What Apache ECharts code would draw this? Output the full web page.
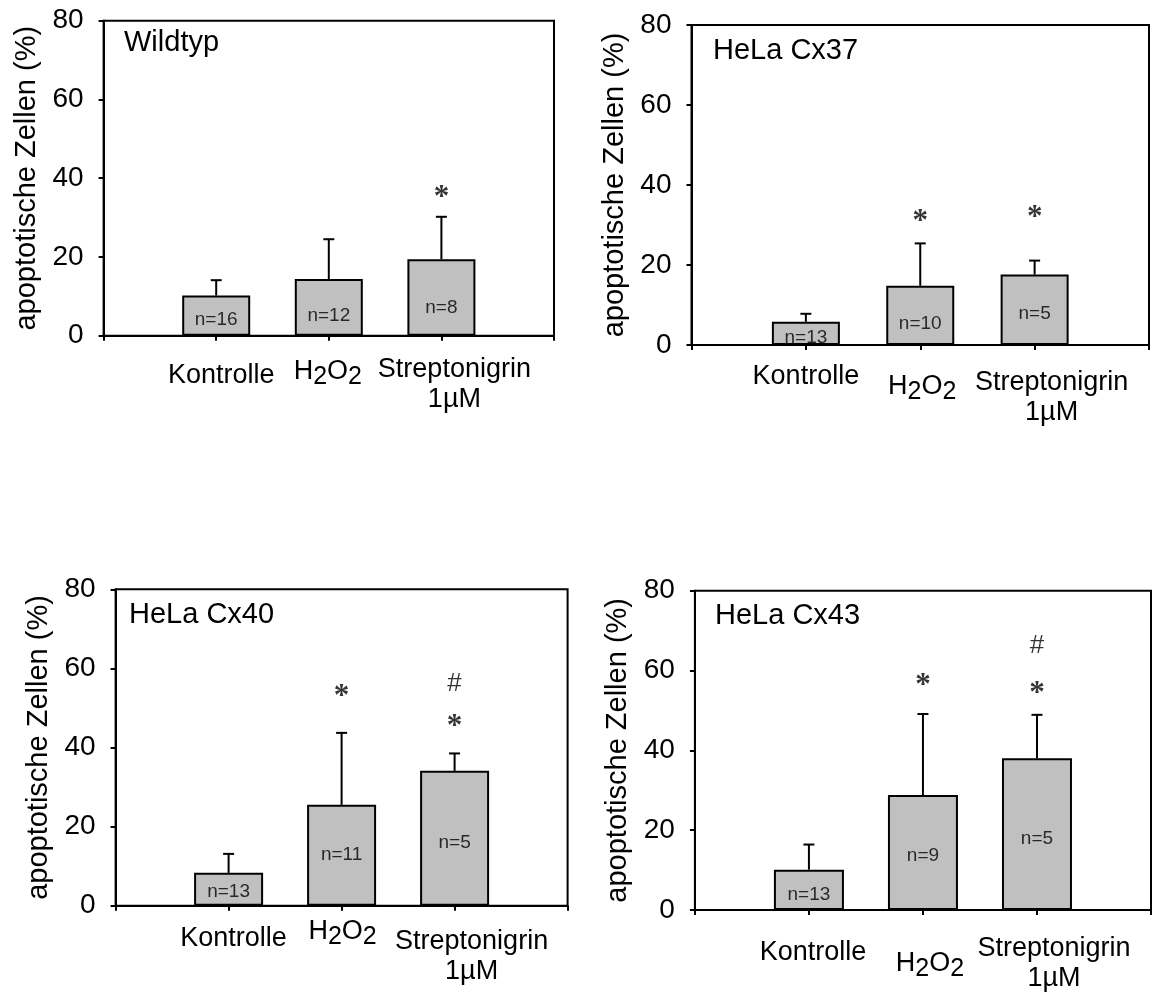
<!DOCTYPE html>
<html>
<head>
<meta charset="utf-8">
<script src="https://cdn.jsdelivr.net/npm/echarts@6/dist/echarts.min.js"></script>
<style>
  html, body { margin: 0; padding: 0; background: #fff; }
  #chart { width: 1154px; height: 994px; }
</style>
</head>
<body>
<div id="chart"></div>
<script>
// ---- data ----
const categories = ['Kontrolle', 'H2O2', 'Streptonigrin\n1µM'];
const panelTitles = ['Wildtyp', 'HeLa Cx37', 'HeLa Cx40', 'HeLa Cx43'];
const yTicks = [0, 20, 40, 60, 80];
const yAxisTitle = 'apoptotische Zellen (%)';

// mean share of apoptotic cells (%)
const meanWildtyp = [10.2, 14.4, 19.4];
const meanCx37 = [5.8, 14.8, 17.6];
const meanCx40 = [8.3, 25.5, 34.1];
const meanCx43 = [10.1, 28.8, 38.0];

// standard deviation (upper whisker only)
const sdWildtyp = [3.9, 10.1, 10.8];
const sdCx37 = [2.0, 10.6, 3.5];
const sdCx40 = [4.8, 18.2, 4.4];
const sdCx43 = [6.3, 20.3, 10.9];

// number of experiments
const nWildtyp = [16, 12, 8];
const nCx37 = [13, 10, 5];
const nCx40 = [13, 11, 5];
const nCx43 = [13, 9, 5];

// significance marks: * vs. Kontrolle, # vs. Wildtyp
const sigWildtyp = [[], [], ['*']];
const sigCx37 = [[], ['*'], ['*']];
const sigCx40 = [[], ['*'], ['#', '*']];
const sigCx43 = [[], ['*'], ['#', '*']];

const panels = [
  { title: panelTitles[0], mean: meanWildtyp, sd: sdWildtyp, n: nWildtyp, sig: sigWildtyp },
  { title: panelTitles[1], mean: meanCx37, sd: sdCx37, n: nCx37, sig: sigCx37 },
  { title: panelTitles[2], mean: meanCx40, sd: sdCx40, n: nCx40, sig: sigCx40 },
  { title: panelTitles[3], mean: meanCx43, sd: sdCx43, n: nCx43, sig: sigCx43 }
];

// ---- layout (pixels, and label heights in axis units) ----
const layout = [
  { grid: { left: 103.6, top: 20.7, width: 450.4, height: 315 }, barWidth: 68, title: [124, 28.5],
    nY: [4.0, 5.0, 7.0], sigY: [[], [], [36.3]],
    labelDy: [40.3, 36.3, 34.3], labelDx: [5, -1, 13] },
  { grid: { left: 691.5, top: 25, width: 457.5, height: 320 }, barWidth: 68, title: [713, 36.5],
    nY: [1.75, 5.4, 7.9], sigY: [[], [32.1], [32.9]],
    labelDy: [31.7, 41.7, 38], labelDx: [0, 2, 17] },
  { grid: { left: 115.6, top: 589.3, width: 452, height: 316.4 }, barWidth: 69, title: [129, 600.5],
    nY: [3.5, 12.9, 15.9], sigY: [[], [54.1], [56.2, 46.5]],
    labelDy: [33.3, 26, 36], labelDx: [5, 1, 17] },
  { grid: { left: 694.9, top: 590.7, width: 463.6, height: 324.3 }, barWidth: 70, title: [715, 601.5],
    nY: [3.7, 13.6, 17.8], sigY: [[], [57.5], [66.2, 55.5]],
    labelDy: [42.3, 54, 39], labelDx: [4, 7, 17] }
];

const FONT = '"Liberation Sans", Arial, sans-serif';
const SERIF = '"Liberation Serif", "Times New Roman", serif';
const LABEL_MARGIN = 4;
// half line heights of the three category label styles
const halfLine = [14, 14, 15];

function categoryItems(p) {
  const L = layout[p];
  const items = categories.map((c, i) => {
    const top = Math.max(0, L.labelDy[i] - halfLine[i] - LABEL_MARGIN);
    const dx = L.labelDx[i];
    const style = {
      padding: [top, dx < 0 ? -2 * dx : 0, 0, dx > 0 ? 2 * dx : 0]
    };
    if (i === 0) style.lineHeight = 28;
    if (i === 2) style.lineHeight = 30;
    return { value: c, textStyle: style };
  });
  return [''].concat(items, ['']);
}

function labelFormatter(v) {
  if (v === 'H2O2') return '{n|H}{s|2}{n|O}{s|2}';
  return v;
}

// plain black text, no automatic outline
const plainText = { color: '#000', textBorderWidth: 0, textBorderColor: 'transparent', textShadowBlur: 0 };

const option = {
  animation: false,
  backgroundColor: '#fff',
  textStyle: { fontFamily: FONT, color: '#000' },
  title: [],
  grid: [],
  xAxis: [],
  yAxis: [],
  series: []
};

panels.forEach((pn, p) => {
  const L = layout[p];
  option.title.push({
    text: pn.title, left: L.title[0], top: L.title[1], padding: 0,
    textStyle: { fontFamily: FONT, fontSize: 29, fontWeight: 'normal', color: '#000' }
  });
  option.grid.push(Object.assign({
    show: true, borderColor: '#000', borderWidth: 2, backgroundColor: 'transparent', containLabel: false
  }, L.grid));
  option.xAxis.push({
    type: 'category', gridIndex: p, boundaryGap: false,
    data: categoryItems(p),
    axisLine: { lineStyle: { color: '#000', width: 2 } },
    axisTick: { show: true, interval: 0, length: 5, lineStyle: { color: '#000', width: 2 } },
    axisLabel: {
      interval: 0, margin: LABEL_MARGIN, fontSize: 27, fontFamily: FONT, color: '#000',
      formatter: labelFormatter,
      rich: {
        n: { fontSize: 27, fontFamily: FONT, lineHeight: 28, verticalAlign: 'top', color: '#000' },
        s: { fontSize: 25, fontFamily: FONT, lineHeight: 38, color: '#000' }
      }
    },
    splitLine: { show: false }
  });
  option.yAxis.push({
    type: 'value', gridIndex: p,
    min: yTicks[0], max: yTicks[yTicks.length - 1], interval: yTicks[1] - yTicks[0],
    name: yAxisTitle, nameLocation: 'middle', nameGap: 62, nameMoveOverlap: false,
    nameTextStyle: { fontSize: 29, fontFamily: FONT, color: '#000' },
    axisLine: { show: true, lineStyle: { color: '#000', width: 2 } },
    axisTick: { show: true, length: 5, lineStyle: { color: '#000', width: 2 } },
    axisLabel: { fontSize: 28, fontFamily: FONT, color: '#000', margin: 20 },
    splitLine: { show: false }
  });

  // bars
  option.series.push({
    type: 'bar', xAxisIndex: p, yAxisIndex: p,
    barWidth: L.barWidth,
    data: pn.mean.map((m, i) => [i + 1, m]),
    itemStyle: { color: '#c0c0c0', borderColor: '#000', borderWidth: 2 },
    z: 2
  });

  // upper error whiskers
  option.series.push({
    type: 'custom', xAxisIndex: p, yAxisIndex: p,
    data: pn.mean.map((m, i) => [i + 1, m, pn.sd[i]]),
    renderItem: function (params, api) {
      const x = api.value(0), m = api.value(1), s = api.value(2);
      const a = api.coord([x, m]);
      const b = api.coord([x, m + s]);
      return {
        type: 'group',
        children: [
          { type: 'line', shape: { x1: a[0], y1: a[1], x2: b[0], y2: b[1] },
            style: { stroke: '#000', lineWidth: 2 } },
          { type: 'line', shape: { x1: b[0] - 5.5, y1: b[1], x2: b[0] + 5.5, y2: b[1] },
            style: { stroke: '#000', lineWidth: 2 } }
        ]
      };
    },
    z: 3
  });

  // n = … inside the bars
  option.series.push({
    type: 'scatter', xAxisIndex: p, yAxisIndex: p,
    symbolSize: 0, silent: true,
    itemStyle: { color: 'transparent' },
    data: pn.n.map((n, i) => ({ value: [i + 1, L.nY[i]], name: 'n=' + n })),
    label: Object.assign({
      show: true, position: 'inside', formatter: (d) => d.name,
      fontSize: 19, fontFamily: FONT
    }, plainText),
    z: 4
  });

  // significance marks
  const marks = [];
  pn.sig.forEach((list, i) => {
    list.forEach((mk, k) => {
      const isStar = mk === '*';
      marks.push({
        value: [i + 1, L.sigY[i][k]], name: mk,
        label: isStar
          ? { fontSize: 31, fontFamily: SERIF, fontWeight: 'bold', offset: [0, 5] }
          : { fontSize: 26, fontFamily: FONT, offset: [0, 0] }
      });
    });
  });
  option.series.push({
    type: 'scatter', xAxisIndex: p, yAxisIndex: p,
    symbolSize: 0, silent: true,
    itemStyle: { color: 'transparent' },
    data: marks,
    label: Object.assign({
      show: true, position: 'inside', formatter: (d) => d.name
    }, plainText),
    z: 4
  });
});

const chart = echarts.init(document.getElementById('chart'), null, { renderer: 'canvas' });
chart.setOption(option);
</script>
</body>
</html>
